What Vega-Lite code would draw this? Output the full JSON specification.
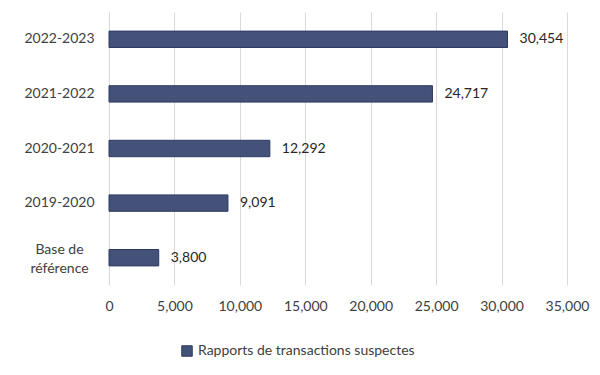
{
  "$schema": "https://vega.github.io/schema/vega-lite/v6.json",
  "width": 458,
  "height": 273,
  "autosize": {"type": "none"},
  "padding": {"left": 109, "top": 12, "right": 33, "bottom": 90},
  "background": "white",
  "config": {
    "view": {"stroke": null},
    "font": "Lato",
    "axis": {"labelFont": "Lato", "labelFontSize": 14, "labelColor": "#404040"},
    "legend": {"labelFont": "Lato", "labelFontSize": 14, "labelColor": "#404040"}
  },
  "data": {
    "values": [
      {"periode": "2022-2023", "rapports": 30454, "serie": "Rapports de transactions suspectes"},
      {"periode": "2021-2022", "rapports": 24717, "serie": "Rapports de transactions suspectes"},
      {"periode": "2020-2021", "rapports": 12292, "serie": "Rapports de transactions suspectes"},
      {"periode": "2019-2020", "rapports": 9091, "serie": "Rapports de transactions suspectes"},
      {"periode": "Base de référence", "rapports": 3800, "serie": "Rapports de transactions suspectes"}
    ]
  },
  "encoding": {
    "y": {
      "field": "periode",
      "type": "nominal",
      "sort": null,
      "scale": {"paddingInner": 0.7, "paddingOuter": 0.35},
      "axis": {
        "title": null,
        "ticks": false,
        "domain": true,
        "domainColor": "#d9d9d9",
        "domainWidth": 1,
        "labelAlign": "center",
        "labelPadding": 50,
        "labelLineHeight": 19,
        "labelOffset": {"condition": {"test": "datum.value == 'Base de référence'", "value": -8}, "value": 0},
        "labelExpr": "datum.value == 'Base de référence' ? ['Base de', 'référence'] : datum.value"
      }
    },
    "x": {
      "field": "rapports",
      "type": "quantitative",
      "scale": {"domain": [0, 35000], "nice": false},
      "axis": {
        "title": null,
        "values": [0, 5000, 10000, 15000, 20000, 25000, 30000, 35000],
        "format": ",.0f",
        "ticks": false,
        "domain": false,
        "grid": true,
        "gridColor": "#d9d9d9",
        "gridWidth": 1,
        "labelPadding": 14,
        "labelOverlap": false,
        "labelFlush": false,
        "labelBound": false
      }
    }
  },
  "layer": [
    {
      "mark": {"type": "bar", "stroke": "#2c3a63", "strokeWidth": 1},
      "encoding": {
        "color": {
          "field": "serie",
          "type": "nominal",
          "scale": {"range": ["#44527a"]},
          "legend": {
            "title": null,
            "orient": "none",
            "legendX": 71,
            "legendY": 332,
            "direction": "horizontal",
            "labelLimit": 400,
            "symbolType": "square",
            "symbolSize": 110,
            "symbolStrokeColor": "#2c3a63",
            "symbolStrokeWidth": 1
          }
        }
      }
    },
    {
      "mark": {"type": "text", "align": "left", "dx": 12, "fontSize": 14, "font": "Lato", "color": "#262626"},
      "encoding": {
        "text": {"field": "rapports", "type": "quantitative", "format": ",.0f"}
      }
    }
  ]
}
